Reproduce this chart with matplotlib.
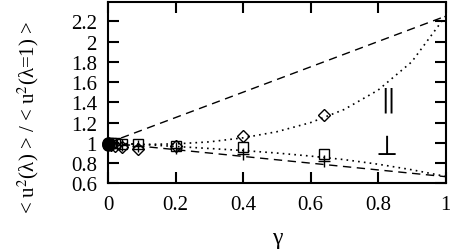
import matplotlib
matplotlib.use('Agg')
import matplotlib.pyplot as plt

# theory lines
dash_gamma = [0.0, 1.0]
dash_upper = [1.0, 2.25]
dash_lower = [1.0, 0.667]

dot_gamma = [0.0, 0.1, 0.2, 0.3, 0.4, 0.5, 0.6, 0.7, 0.8, 0.9, 1.0]
dot_par = [1.00, 0.985, 0.99, 1.01, 1.05, 1.11, 1.20, 1.33, 1.52, 1.80, 2.25]
dot_perp = [1.00, 0.985, 0.965, 0.945, 0.925, 0.90, 0.87, 0.835, 0.79, 0.735, 0.67]

# simulation points
sq_gamma = [0.0, 0.01, 0.02, 0.04, 0.09, 0.2, 0.4, 0.64]
sq_vals = [1.0, 1.0, 1.0, 0.99, 0.99, 0.97, 0.96, 0.89]
di_gamma = [0.0, 0.01, 0.02, 0.04, 0.09, 0.2, 0.4, 0.64]
di_vals = [1.0, 0.98, 0.97, 0.96, 0.94, 0.97, 1.07, 1.28]
pl_gamma = [0.04, 0.09, 0.2, 0.4, 0.64]
pl_vals = [0.98, 0.97, 0.95, 0.89, 0.82]
ci_gamma = [0.0, 0.0, 0.0, 0.003]
ci_vals = [1.0, 0.99, 0.98, 0.99]

xticks = [0, 0.2, 0.4, 0.6, 0.8, 1]
xticklabels = ['0', '0.2', '0.4', '0.6', '0.8', '1']
yticks = [0.6, 0.8, 1.0, 1.2, 1.4, 1.6, 1.8, 2.0, 2.2]
yticklabels = ['0.6', '0.8', '1', '1.2', '1.4', '1.6', '1.8', '2', '2.2']

plt.rcParams['font.family'] = ['Liberation Serif', 'DejaVu Serif']
plt.rcParams['mathtext.fontset'] = 'stix'

fig = plt.figure(figsize=(4.5, 2.53), dpi=100)
ax = fig.add_axes([0.24, 0.271, 0.75, 0.717])

ax.plot(dash_gamma, dash_upper, color='black', lw=1, ls=(0, (6, 4)))
ax.plot(dash_gamma, dash_lower, color='black', lw=1, ls=(0, (6, 4)))
ax.plot(dot_gamma, dot_par, color='black', lw=1.2, ls=(0, (1, 2.5)))
ax.plot(dot_gamma, dot_perp, color='black', lw=1.2, ls=(0, (1, 2.5)))

ax.plot(sq_gamma, sq_vals, ls='none', marker='s', ms=7, mfc='none', mec='black', mew=1)
ax.plot(di_gamma, di_vals, ls='none', marker='D', ms=6, mfc='none', mec='black', mew=1)
ax.plot(pl_gamma, pl_vals, ls='none', marker='+', ms=9, color='black', mew=1)
ax.plot(ci_gamma, ci_vals, ls='none', marker='o', ms=8, color='black', clip_on=False)

ax.text(0.82, 1.43, '$\\parallel$', fontsize=21, ha='center', va='center')
ax.text(0.82, 0.96, '$\\perp$', fontsize=21, ha='center', va='center')

ax.set_xlim(0, 1)
ax.set_ylim(0.6, 2.39)
ax.set_xticks(xticks)
ax.set_xticklabels(xticklabels)
ax.set_yticks(yticks)
ax.set_yticklabels(yticklabels)
ax.tick_params(direction='in', length=8, width=1.5, labelsize=15,
               top=True, right=True, pad=8)
for sp in ax.spines.values():
    sp.set_linewidth(1.5)

ax.set_xlabel('γ', fontsize=17, labelpad=10)
fig.text(0.062, 0.535, '< u$^2$(λ) > / < u$^2$(λ=1) >', fontsize=15,
         rotation=90, ha='center', va='center')

fig.savefig('out.png', dpi=100)
